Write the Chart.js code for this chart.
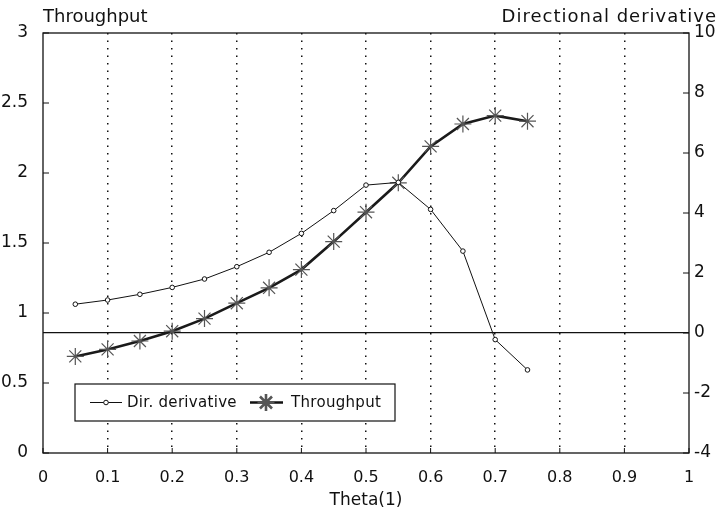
<!DOCTYPE html>
<html>
<head>
<meta charset="utf-8">
<script src="https://cdn.jsdelivr.net/npm/chart.js@4.4.1/dist/chart.umd.min.js"></script>
<style>
  html, body { margin: 0; padding: 0; background: #fff; }
</style>
</head>
<body>
<canvas id="chart" width="722" height="515"></canvas>
<script>
// values
const theta = [0.05, 0.1, 0.15, 0.2, 0.25, 0.3, 0.35, 0.4, 0.45, 0.5, 0.55, 0.6, 0.65, 0.7, 0.75];
const throughput = [0.69, 0.74, 0.80, 0.87, 0.96, 1.07, 1.18, 1.31, 1.51, 1.72, 1.93, 2.19, 2.35, 2.41, 2.37];
const dirDerivative = [0.96, 1.10, 1.29, 1.52, 1.80, 2.21, 2.69, 3.32, 4.08, 4.93, 5.02, 4.12, 2.73, -0.22, -1.23];

const xTicks = [0, 0.1, 0.2, 0.3, 0.4, 0.5, 0.6, 0.7, 0.8, 0.9, 1];
const leftTicks = [0, 0.5, 1, 1.5, 2, 2.5, 3];
const rightTicks = [-4, -2, 0, 2, 4, 6, 8, 10];

const FONT = "'DejaVu Sans', 'Liberation Sans', sans-serif";
const INK = '#111';

// box, inner tick marks, top titles and the legend inside the plot
const decorations = {
  id: 'decorations',
  afterDraw(chart) {
    const { ctx, chartArea: a, scales } = chart;
    ctx.save();
    ctx.strokeStyle = INK;
    ctx.lineWidth = 1.3;
    ctx.strokeRect(a.left, a.top, a.right - a.left, a.bottom - a.top);

    ctx.lineWidth = 1;
    ctx.beginPath();
    for (const t of scales.y.ticks) {
      const py = scales.y.getPixelForValue(t.value);
      ctx.moveTo(a.left, py); ctx.lineTo(a.left + 6, py);
    }
    for (const t of scales.y1.ticks) {
      const py = scales.y1.getPixelForValue(t.value);
      ctx.moveTo(a.right, py); ctx.lineTo(a.right - 6, py);
    }
    for (const t of scales.x.ticks) {
      const px = scales.x.getPixelForValue(t.value);
      ctx.moveTo(px, a.bottom); ctx.lineTo(px, a.bottom - 5);
    }
    ctx.stroke();

    ctx.fillStyle = INK;
    ctx.font = `18px ${FONT}`;
    ctx.textBaseline = 'alphabetic';
    ctx.textAlign = 'left';
    ctx.fillText('Throughput', a.left, 22);
    ctx.letterSpacing = '1px';
    ctx.textAlign = 'right';
    ctx.fillText('Directional derivative', 717, 22);
    ctx.letterSpacing = '0px';

    // legend
    const bx = a.left + 32, by = a.bottom - 69, bw = 320, bh = 37;
    ctx.fillStyle = '#fff';
    ctx.fillRect(bx, by, bw, bh);
    ctx.strokeStyle = INK;
    ctx.lineWidth = 1.2;
    ctx.strokeRect(bx, by, bw, bh);
    const ly = by + bh / 2;
    const [dd, tp] = chart.data.datasets;

    ctx.lineWidth = dd.borderWidth;
    ctx.beginPath(); ctx.moveTo(bx + 15, ly); ctx.lineTo(bx + 47, ly); ctx.stroke();
    ctx.fillStyle = '#fff';
    Chart.helpers.drawPoint(ctx, { pointStyle: dd.pointStyle, radius: dd.pointRadius, borderWidth: 1, rotation: 0 }, bx + 31, ly);

    ctx.lineWidth = tp.borderWidth;
    ctx.beginPath(); ctx.moveTo(bx + 175, ly); ctx.lineTo(bx + 208, ly); ctx.stroke();
    ctx.strokeStyle = tp.pointBorderColor;
    Chart.helpers.drawPoint(ctx, { pointStyle: tp.pointStyle, radius: tp.pointRadius, borderWidth: 1.2, rotation: 0 }, bx + 191, ly);

    ctx.fillStyle = INK;
    ctx.font = `15px ${FONT}`;
    ctx.letterSpacing = '0.3px';
    ctx.textAlign = 'left';
    ctx.textBaseline = 'middle';
    ctx.fillText(dd.label, bx + 52, ly + 1);
    ctx.fillText(tp.label, bx + 216, ly + 1);
    ctx.restore();
  },
};

const tickFont = { family: FONT, size: 17 };

new Chart(document.getElementById('chart'), {
  type: 'line',
  data: {
    datasets: [
      {
        label: 'Dir. derivative',
        data: theta.map((x, i) => ({ x, y: dirDerivative[i] })),
        yAxisID: 'y1',
        borderColor: INK,
        borderWidth: 1,
        pointStyle: 'circle',
        pointRadius: 2.3,
        pointBackgroundColor: '#fff',
        pointBorderColor: INK,
        pointBorderWidth: 1,
        tension: 0,
      },
      {
        label: 'Throughput',
        data: theta.map((x, i) => ({ x, y: throughput[i] })),
        yAxisID: 'y',
        borderColor: '#1a1a1a',
        borderWidth: 2.6,
        pointStyle: 'star',
        pointRadius: 8.5,
        pointBackgroundColor: 'transparent',
        pointBorderColor: '#555',
        pointBorderWidth: 1.2,
        tension: 0,
      },
    ],
  },
  options: {
    responsive: false,
    animation: false,
    devicePixelRatio: 1,
    layout: { padding: { top: 33, left: 0, right: 0, bottom: 0 } },
    plugins: { legend: { display: false }, tooltip: { enabled: false } },
    scales: {
      x: {
        type: 'linear',
        min: 0, max: 1,
        afterBuildTicks: (s) => { s.ticks = xTicks.map((value) => ({ value })); },
        afterFit: (s) => { s.height = 62; },
        ticks: { color: INK, font: { family: FONT, size: 16 }, padding: 15, maxRotation: 0, callback: (v) => String(v) },
        grid: {
          drawTicks: false,
          color: (c) => (c.tick && c.tick.value > 0 && c.tick.value < 1 ? INK : 'transparent'),
          lineWidth: 1.5,
        },
        border: { display: false, dash: [1.5, 6] },
        title: { display: true, text: 'Theta(1)', color: INK, font: { family: FONT, size: 17 }, padding: { top: 0, bottom: 4 } },
      },
      y: {
        position: 'left',
        min: 0, max: 3,
        afterBuildTicks: (s) => { s.ticks = leftTicks.map((value) => ({ value })); },
        afterFit: (s) => { s.width = 43; },
        ticks: { color: INK, font: tickFont, padding: 7, callback: (v) => String(v) },
        grid: { display: false },
        border: { display: false },
      },
      y1: {
        position: 'right',
        min: -4, max: 10,
        afterBuildTicks: (s) => { s.ticks = rightTicks.map((value) => ({ value })); },
        afterFit: (s) => { s.width = 33; },
        ticks: { color: INK, font: tickFont, padding: 5, callback: (v) => String(v) },
        grid: {
          drawTicks: false,
          color: (c) => (c.tick && c.tick.value === 0 ? INK : 'transparent'),
          lineWidth: 1.3,
        },
        border: { display: false },
      },
    },
  },
  plugins: [decorations],
});
</script>
</body>
</html>
